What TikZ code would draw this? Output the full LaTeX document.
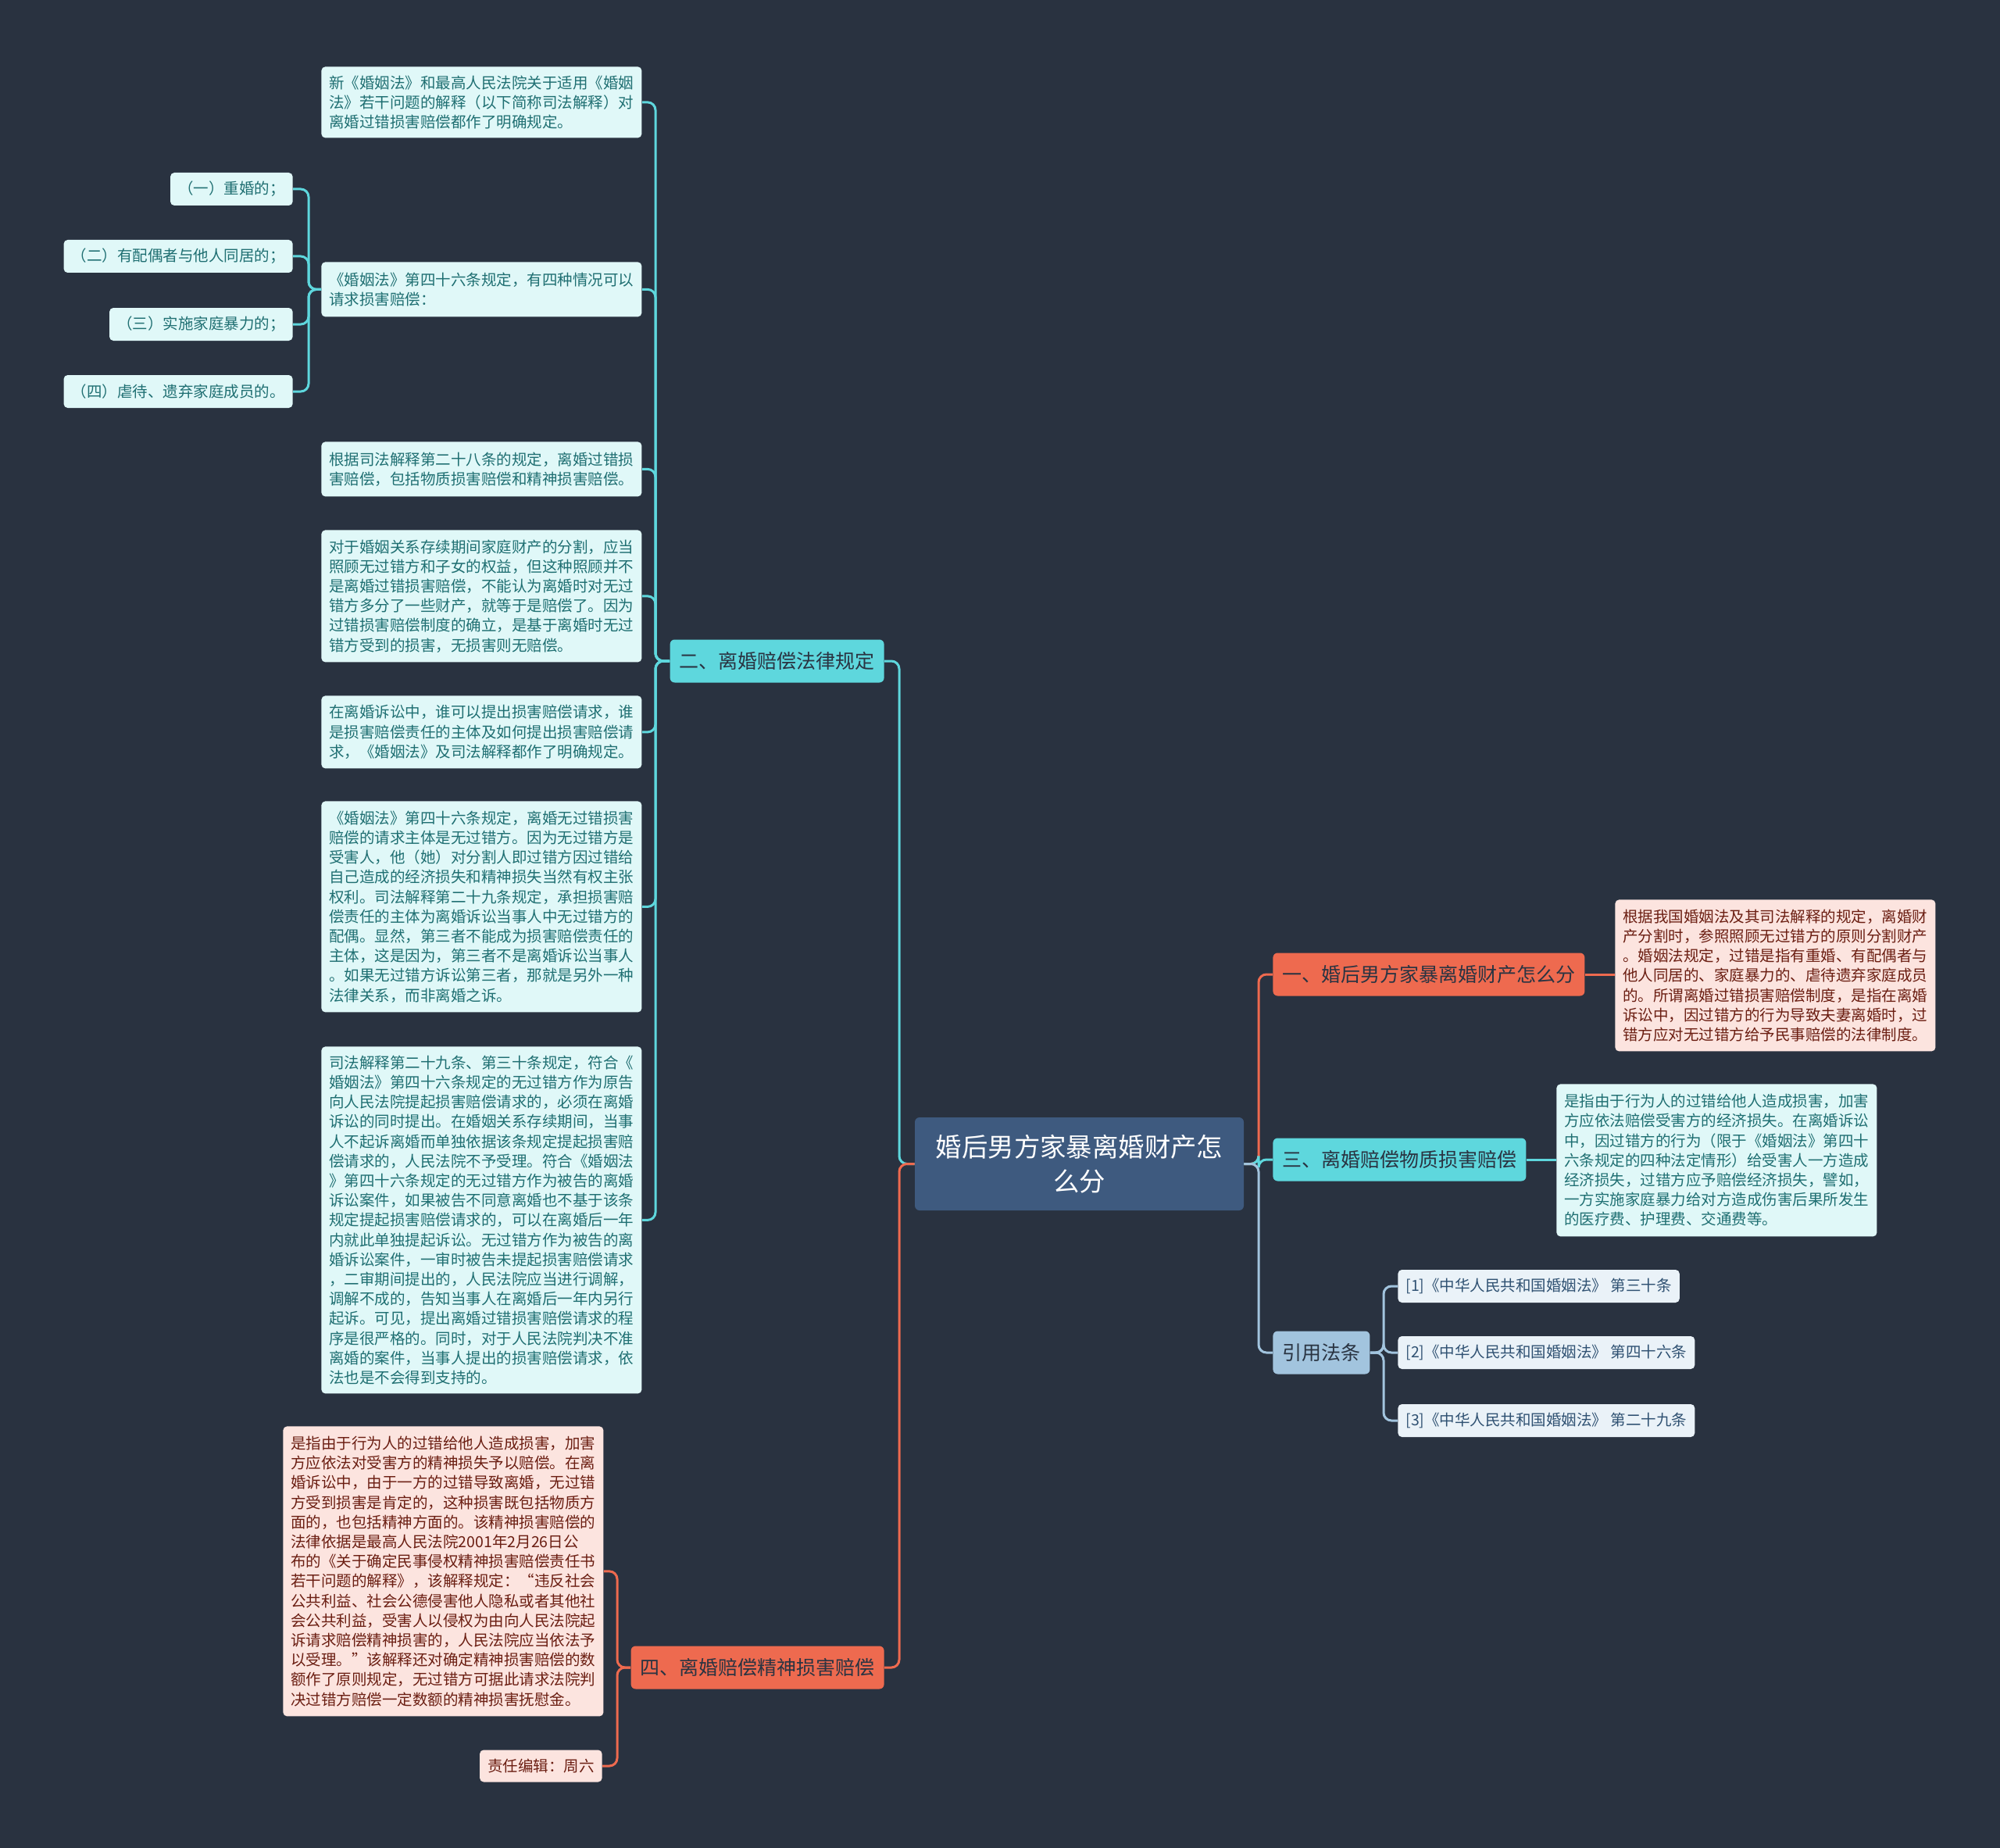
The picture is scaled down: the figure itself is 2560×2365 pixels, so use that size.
\documentclass[tikz,border=0pt]{standalone}
\usepackage{fontspec}
\setmainfont{Noto Sans CJK SC}
\usetikzlibrary{positioning}
\definecolor{bgcol}{HTML}{293240}
\definecolor{rootblue}{HTML}{3E5A7F}
\definecolor{cyanbr}{HTML}{5ED7DD}
\definecolor{orangebr}{HTML}{EE6A4F}
\definecolor{greybr}{HTML}{A2C4DE}
\definecolor{brtext}{HTML}{2A3442}
\definecolor{leafcyan}{HTML}{E0F8F8}
\definecolor{leafcyantext}{HTML}{1F6F72}
\definecolor{leafpink}{HTML}{FCE4DF}
\definecolor{leafpinktext}{HTML}{6B1E12}
\definecolor{reffill}{HTML}{EAF2F8}
\definecolor{reftext}{HTML}{2F5172}

\begin{document}
\begin{tikzpicture}[x=0.5pt, y=-0.5pt, font=\fontsize{9.75}{12.6}\selectfont,
  root/.style={fill=rootblue, text=white, rounded corners=3pt, align=center, text width=184pt,
    minimum width=210.5pt, minimum height=59.5pt, font=\fontsize{16.7}{22}\selectfont},
  branch/.style={rounded corners=3pt, text=brtext, inner xsep=6pt, minimum height=27.5pt,
    font=\fontsize{12.5}{15}\selectfont},
  leaf/.style={fill=leafcyan, text=leafcyantext, rounded corners=2.5pt, align=left,
    text width=195pt, inner xsep=5pt, inner ysep=3pt, anchor=north west},
  pinkleaf/.style={leaf, fill=leafpink, text=leafpinktext},
  item/.style={fill=leafcyan, text=leafcyantext, rounded corners=2.5pt, inner xsep=5pt,
    minimum height=21pt, anchor=east},
  ref/.style={fill=reffill, text=reftext, rounded corners=2.5pt, inner xsep=5pt,
    minimum height=21pt, anchor=west},
  link/.style={line width=1.5pt, rounded corners=5pt}]
  \fill[bgcol] (0,0) rectangle (2560,2365);

  \coordinate (tl) at (1151,0);
  \coordinate (tr) at (1611,0);
  \coordinate (t2) at (839,0);
  \coordinate (tc) at (395,0);
  \coordinate (t4) at (790,0);
  \coordinate (t5) at (1771,0);

  \node[root] (root) at (1381.5,1489.5) {婚后男方家暴离婚财产怎\\么分};

  \node[branch, fill=cyanbr, anchor=east] (law) at (1132,846) {二、离婚赔偿法律规定};
  \node[branch, fill=orangebr, anchor=east] (mental) at (1132,2134) {四、离婚赔偿精神损害赔偿};
  \node[branch, fill=orangebr, anchor=west] (prop) at (1629,1247) {一、婚后男方家暴离婚财产怎么分};
  \node[branch, fill=cyanbr, anchor=west] (mat) at (1629,1484) {三、离婚赔偿物质损害赔偿};
  \node[branch, fill=greybr, anchor=west] (cite) at (1629,1731) {引用法条};

  \node[leaf, minimum height=45.5pt] (lw1) at (411,85) {新《婚姻法》和最高人民法院关于适用《婚姻\\
法》若干问题的解释（以下简称司法解释）对\\
离婚过错损害赔偿都作了明确规定。};
  \node[leaf, minimum height=35pt] (lw2) at (411,335) {《婚姻法》第四十六条规定，有四种情况可以\\
请求损害赔偿：};
  \node[leaf, minimum height=35pt] (lw3) at (411,565) {根据司法解释第二十八条的规定，离婚过错损\\
害赔偿，包括物质损害赔偿和精神损害赔偿。};
  \node[leaf, minimum height=84.5pt] (lw4) at (411,678) {对于婚姻关系存续期间家庭财产的分割，应当\\
照顾无过错方和子女的权益，但这种照顾并不\\
是离婚过错损害赔偿，不能认为离婚时对无过\\
错方多分了一些财产，就等于是赔偿了。因为\\
过错损害赔偿制度的确立，是基于离婚时无过\\
错方受到的损害，无损害则无赔偿。};
  \node[leaf, minimum height=46.5pt] (lw5) at (411,890) {在离婚诉讼中，谁可以提出损害赔偿请求，谁\\
是损害赔偿责任的主体及如何提出损害赔偿请\\
求，《婚姻法》及司法解释都作了明确规定。};
  \node[leaf, minimum height=135pt] (lw6) at (411,1025) {《婚姻法》第四十六条规定，离婚无过错损害\\
赔偿的请求主体是无过错方。因为无过错方是\\
受害人，他（她）对分割人即过错方因过错给\\
自己造成的经济损失和精神损失当然有权主张\\
权利。司法解释第二十九条规定，承担损害赔\\
偿责任的主体为离婚诉讼当事人中无过错方的\\
配偶。显然，第三者不能成为损害赔偿责任的\\
主体，这是因为，第三者不是离婚诉讼当事人\\
。如果无过错方诉讼第三者，那就是另外一种\\
法律关系，而非离婚之诉。};
  \node[leaf, minimum height=222pt] (lw7) at (411,1339) {司法解释第二十九条、第三十条规定，符合《\\
婚姻法》第四十六条规定的无过错方作为原告\\
向人民法院提起损害赔偿请求的，必须在离婚\\
诉讼的同时提出。在婚姻关系存续期间，当事\\
人不起诉离婚而单独依据该条规定提起损害赔\\
偿请求的，人民法院不予受理。符合《婚姻法\\
》第四十六条规定的无过错方作为被告的离婚\\
诉讼案件，如果被告不同意离婚也不基于该条\\
规定提起损害赔偿请求的，可以在离婚后一年\\
内就此单独提起诉讼。无过错方作为被告的离\\
婚诉讼案件，一审时被告未提起损害赔偿请求\\
，二审期间提出的，人民法院应当进行调解，\\
调解不成的，告知当事人在离婚后一年内另行\\
起诉。可见，提出离婚过错损害赔偿请求的程\\
序是很严格的。同时，对于人民法院判决不准\\
离婚的案件，当事人提出的损害赔偿请求，依\\
法也是不会得到支持的。};

  \node[item] (cs1) at (375,242) {（一）重婚的；};
  \node[item] (cs2) at (375,328) {（二）有配偶者与他人同居的；};
  \node[item] (cs3) at (375,415) {（三）实施家庭暴力的；};
  \node[item] (cs4) at (375,501) {（四）虐待、遗弃家庭成员的。};

  \node[pinkleaf, minimum height=185.5pt] (mn1) at (362,1825) {是指由于行为人的过错给他人造成损害，加害\\
方应依法对受害方的精神损失予以赔偿。在离\\
婚诉讼中，由于一方的过错导致离婚，无过错\\
方受到损害是肯定的，这种损害既包括物质方\\
面的，也包括精神方面的。该精神损害赔偿的\\
法律依据是最高人民法院2001年2月26日公\\
布的《关于确定民事侵权精神损害赔偿责任书\\
若干问题的解释》，该解释规定：“违反社会\\
公共利益、社会公德侵害他人隐私或者其他社\\
会公共利益，受害人以侵权为由向人民法院起\\
诉请求赔偿精神损害的，人民法院应当依法予\\
以受理。”该解释还对确定精神损害赔偿的数\\
额作了原则规定，无过错方可据此请求法院判\\
决过错方赔偿一定数额的精神损害抚慰金。};
  \node[item, fill=leafpink, text=leafpinktext, minimum height=20.5pt] (mn2) at (771,2260) {责任编辑：周六};

  \node[pinkleaf, minimum height=97pt] (pr1) at (2067,1151) {根据我国婚姻法及其司法解释的规定，离婚财\\
产分割时，参照照顾无过错方的原则分割财产\\
。婚姻法规定，过错是指有重婚、有配偶者与\\
他人同居的、家庭暴力的、虐待遗弃家庭成员\\
的。所谓离婚过错损害赔偿制度，是指在离婚\\
诉讼中，因过错方的行为导致夫妻离婚时，过\\
错方应对无过错方给予民事赔偿的法律制度。};
  \node[leaf, minimum height=97.5pt] (mt1) at (1992,1387) {是指由于行为人的过错给他人造成损害，加害\\
方应依法赔偿受害方的经济损失。在离婚诉讼\\
中，因过错方的行为（限于《婚姻法》第四十\\
六条规定的四种法定情形）给受害人一方造成\\
经济损失，过错方应予赔偿经济损失，譬如，\\
一方实施家庭暴力给对方造成伤害后果所发生\\
的医疗费、护理费、交通费等。};

  \node[ref] (rf1) at (1789,1646) {[1]《中华人民共和国婚姻法》 第三十条};
  \node[ref] (rf2) at (1789,1731) {[2]《中华人民共和国婚姻法》 第四十六条};
  \node[ref] (rf3) at (1789,1818) {[3]《中华人民共和国婚姻法》 第二十九条};

  \draw[link, cyanbr] (root.west) -- (root.west -| tl) |- (law.east);
  \draw[link, orangebr] (root.west) -- (root.west -| tl) |- (mental.east);
  \draw[link, orangebr] (root.east) -- (root.east -| tr) |- (prop.west);
  \draw[link, cyanbr] (root.east) -- (root.east -| tr) |- (mat.west);
  \draw[link, greybr] (root.east) -- (root.east -| tr) |- (cite.west);
  \foreach \n in {lw1,lw2,lw3,lw4,lw5,lw6,lw7}
    \draw[link, cyanbr] (law.west) -- (law.west -| t2) |- (\n.east);
  \foreach \n in {cs1,cs2,cs3,cs4}
    \draw[link, cyanbr] (lw2.west) -- (lw2.west -| tc) |- (\n.east);
  \foreach \n in {mn1,mn2}
    \draw[link, orangebr] (mental.west) -- (mental.west -| t4) |- (\n.east);
  \draw[link, orangebr] (prop.east) -- (prop.east -| pr1.west);
  \draw[link, cyanbr] (mat.east) -- (mat.east -| mt1.west);
  \foreach \n in {rf1,rf2,rf3}
    \draw[link, greybr] (cite.east) -- (cite.east -| t5) |- (\n.west);
\end{tikzpicture}
\end{document}
